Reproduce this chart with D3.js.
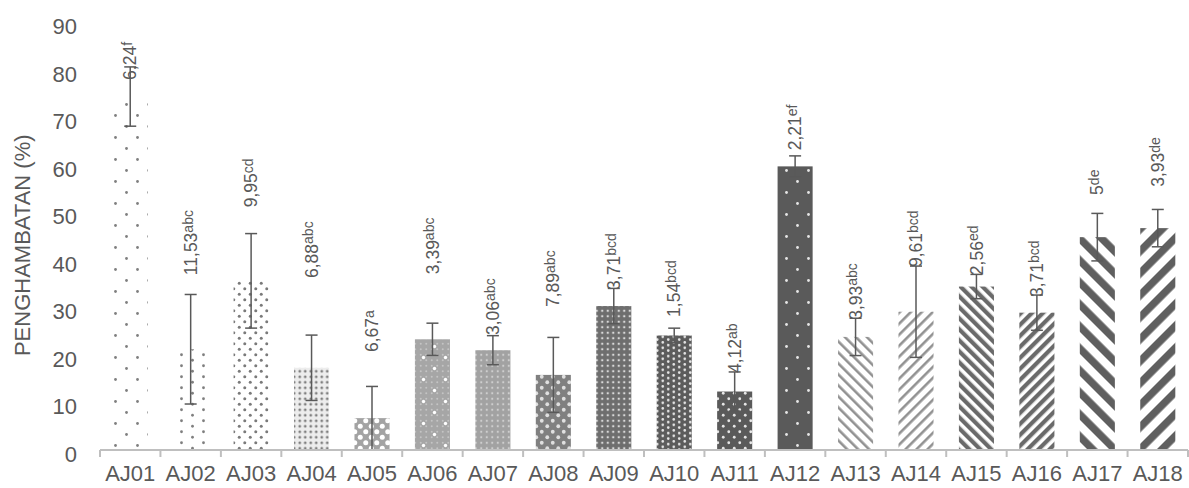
<!DOCTYPE html>
<html>
<head>
<meta charset="utf-8">
<script src="https://cdn.jsdelivr.net/npm/d3@7"></script>
<style>
  body { margin: 0; background: #fff; }
  text { font-family: "Liberation Sans", Arial, sans-serif; fill: #595959; }
</style>
</head>
<body>
<div id="chart"></div>
<script>
// data
const categories = ['AJ01', 'AJ02', 'AJ03', 'AJ04', 'AJ05', 'AJ06', 'AJ07', 'AJ08', 'AJ09',
  'AJ10', 'AJ11', 'AJ12', 'AJ13', 'AJ14', 'AJ15', 'AJ16', 'AJ17', 'AJ18'];
const means = [74.2, 21.0, 35.4, 17.1, 6.5, 23.1, 20.8, 15.6, 30.1,
  23.9, 12.1, 59.5, 23.6, 28.9, 34.2, 28.7, 44.6, 46.5];
const sds = [6.24, 11.53, 9.95, 6.88, 6.67, 3.39, 3.06, 7.89, 3.71,
  1.54, 4.12, 2.21, 3.93, 9.61, 2.56, 3.71, 5, 3.93];
const sdLabels = ['6,24', '11,53', '9,95', '6,88', '6,67', '3,39', '3,06', '7,89', '3,71',
  '1,54', '4,12', '2,21', '3,93', '9,61', '2,56', '3,71', '5', '3,93'];
const letters = ['f', 'abc', 'cd', 'abc', 'a', 'abc', 'abc', 'abc', 'bcd',
  'bcd', 'ab', 'ef', 'abc', 'bcd', 'ed', 'bcd', 'de', 'de'];
// where each (hand placed) label starts, in axis units
const labelAt = [77.7, 36.6, 50.9, 36.0, 20.4, 36.8, 24.0, 29.9, 33.5,
  27.8, 16.0, 62.9, 27.2, 38.3, 36.6, 32.0, 53.5, 55.2];
const yTicks = [0, 10, 20, 30, 40, 50, 60, 70, 80, 90];
const yTitle = 'PENGHAMBATAN (%)';

const width = 1189, height = 488;

const svg = d3.select('#chart')
  .append('svg')
  .attr('width', width)
  .attr('height', height);

const x = d3.scaleBand()
  .domain(categories)
  .range([100, 1188])
  .paddingInner(0.42)
  .paddingOuter(0.21);

const y = d3.scaleLinear()
  .domain([0, 90])
  .range([449, 21.5]);

// excel-like pattern fills, one per bar
const dotted = (w, h, bg, pts, r, c, fine) => ({ kind: 'dots', w, h, bg, pts, r, c, fine });
const stag = (w, h) => [[w / 4, h / 4], [3 * w / 4, 3 * h / 4]];
const mid = (w, h) => [[w / 2, h / 2]];
const striped = (dir, period, lw, c) => ({ kind: 'lines', dir, period, lw, c });

const patterns = [
  dotted(22, 22, '#fff', stag(22, 22), 1.4, '#7f7f7f'),
  dotted(22, 11, '#fff', stag(22, 11), 1.4, '#7f7f7f'),
  dotted(11, 11, '#fff', stag(11, 11), 1.5, '#7a7a7a'),
  dotted(5.5, 5.5, '#ededed', mid(5.5, 5.5), 1.4, '#7f7f7f'),
  dotted(11, 11, '#a3a3a3', stag(11, 11), 2.5, '#ffffff'),
  dotted(22, 22, '#a6a6a6', stag(22, 22), 1.7, '#ffffff', [5.5, 1.0, '#c4c4c4']),
  dotted(5.5, 5.5, '#a2a2a2', mid(5.5, 5.5), 1.1, '#cfcfcf'),
  dotted(11, 11, '#808080', stag(11, 11), 1.9, '#e0e0e0'),
  dotted(5.5, 5.5, '#6e6e6e', mid(5.5, 5.5), 1.2, '#d9d9d9'),
  dotted(11, 5.5, '#5c5c5c', stag(11, 5.5), 1.3, '#e6e6e6'),
  dotted(11, 11, '#5a5a5a', stag(11, 11), 1.4, '#e6e6e6'),
  dotted(22, 22, '#5a5a5a', stag(22, 22), 1.4, '#e6e6e6'),
  striped(-1, 11, 2.6, '#939393'),
  striped(1, 11, 2.6, '#939393'),
  striped(-1, 11, 4.2, '#6a6a6a'),
  striped(1, 11, 4.2, '#6a6a6a'),
  striped(-1, 22, 7.5, '#5f5f5f'),
  striped(1, 22, 7.5, '#5f5f5f')
];

const defs = svg.append('defs');
patterns.forEach(function (p, i) {
  if (p.kind === 'dots') {
    let pat = defs.append('pattern')
      .attr('id', 'pat' + i)
      .attr('patternUnits', 'userSpaceOnUse')
      .attr('width', p.w)
      .attr('height', p.h);
    pat.append('rect').attr('width', p.w).attr('height', p.h).attr('fill', p.bg);
    if (p.fine) {
      for (let fx = p.fine[0] / 2; fx < p.w; fx += p.fine[0]) {
        for (let fy = p.fine[0] / 2; fy < p.h; fy += p.fine[0]) {
          pat.append('circle').attr('cx', fx).attr('cy', fy).attr('r', p.fine[1]).attr('fill', p.fine[2]);
        }
      }
    }
    p.pts.forEach(function (pt) {
      pat.append('circle').attr('cx', pt[0]).attr('cy', pt[1]).attr('r', p.r).attr('fill', p.c);
    });
  } else {
    let s = p.period * Math.SQRT1_2;
    let pat = defs.append('pattern')
      .attr('id', 'pat' + i)
      .attr('patternUnits', 'userSpaceOnUse')
      .attr('width', s)
      .attr('height', s)
      .attr('patternTransform', 'rotate(' + (p.dir * 45) + ')');
    pat.append('rect').attr('width', s).attr('height', s).attr('fill', '#fff');
    pat.append('rect').attr('width', p.lw).attr('height', s).attr('fill', p.c);
  }
});

// bars
svg.selectAll('.bar')
  .data(categories)
  .enter()
  .append('rect')
  .attr('class', 'bar')
  .attr('x', d => x(d))
  .attr('width', x.bandwidth())
  .attr('y', (d, i) => y(means[i]))
  .attr('height', (d, i) => y(0) - y(means[i]))
  .attr('fill', (d, i) => 'url(#pat' + i + ')');

// rotated labels: sd + significance letters
const labels = svg.selectAll('.lbl')
  .data(categories)
  .enter()
  .append('text')
  .attr('class', 'lbl')
  .attr('transform', (d, i) => 'translate(' + (x(d) + x.bandwidth() / 2) + ',' + y(labelAt[i]) + ') rotate(-90)')
  .attr('dy', '0.35em')
  .style('font-size', '17.5px');
labels.append('tspan').text((d, i) => sdLabels[i]);
labels.append('tspan')
  .attr('dy', '-0.3em')
  .style('font-size', '14px')
  .text((d, i) => letters[i]);

// error bars
const err = svg.append('g')
  .attr('stroke', '#595959')
  .attr('stroke-width', 1.5)
  .attr('fill', 'none');
categories.forEach(function (c, i) {
  let cx = x(c) + x.bandwidth() / 2;
  let lo = Math.max(0, means[i] - sds[i]);
  let hi = means[i] + sds[i];
  err.append('line').attr('x1', cx).attr('x2', cx).attr('y1', y(lo)).attr('y2', y(hi));
  err.append('line').attr('x1', cx - 6).attr('x2', cx + 6).attr('y1', y(hi)).attr('y2', y(hi));
  if (means[i] - sds[i] >= 0) {
    err.append('line').attr('x1', cx - 6).attr('x2', cx + 6).attr('y1', y(lo)).attr('y2', y(lo));
  }
});

// x axis
const xAxis = svg.append('g')
  .attr('transform', 'translate(0,' + (y(0) + 1) + ')')
  .call(d3.axisBottom(x).tickSize(0).tickPadding(15));
xAxis.select('.domain').remove();
xAxis.selectAll('text')
  .style('font-size', '22px')
  .attr('fill', '#595959');

svg.append('line')
  .attr('x1', 100).attr('x2', 1188)
  .attr('y1', y(0) + 1).attr('y2', y(0) + 1)
  .attr('stroke', '#bfbfbf')
  .attr('stroke-width', 2);

// category boundary ticks
const bounds = d3.range(categories.length + 1).map(i => 100 + i * x.step());
svg.selectAll('.xtick')
  .data(bounds)
  .enter()
  .append('line')
  .attr('x1', d => d).attr('x2', d => d)
  .attr('y1', y(0) + 1).attr('y2', y(0) + 8)
  .attr('stroke', '#bfbfbf')
  .attr('stroke-width', 2);

// y axis (labels only)
const yAxis = svg.append('g')
  .attr('transform', 'translate(77,0)')
  .call(d3.axisLeft(y).tickValues(yTicks).tickSize(0).tickPadding(0));
yAxis.select('.domain').remove();
yAxis.selectAll('text')
  .style('font-size', '22px')
  .attr('fill', '#595959')
  .attr('dy', '0.55em');

svg.append('text')
  .attr('transform', 'translate(22,' + ((y(0) + y(90)) / 2 + 10) + ') rotate(-90)')
  .attr('text-anchor', 'middle')
  .attr('dy', '0.35em')
  .style('font-size', '22px')
  .text(yTitle);
</script>
</body>
</html>
